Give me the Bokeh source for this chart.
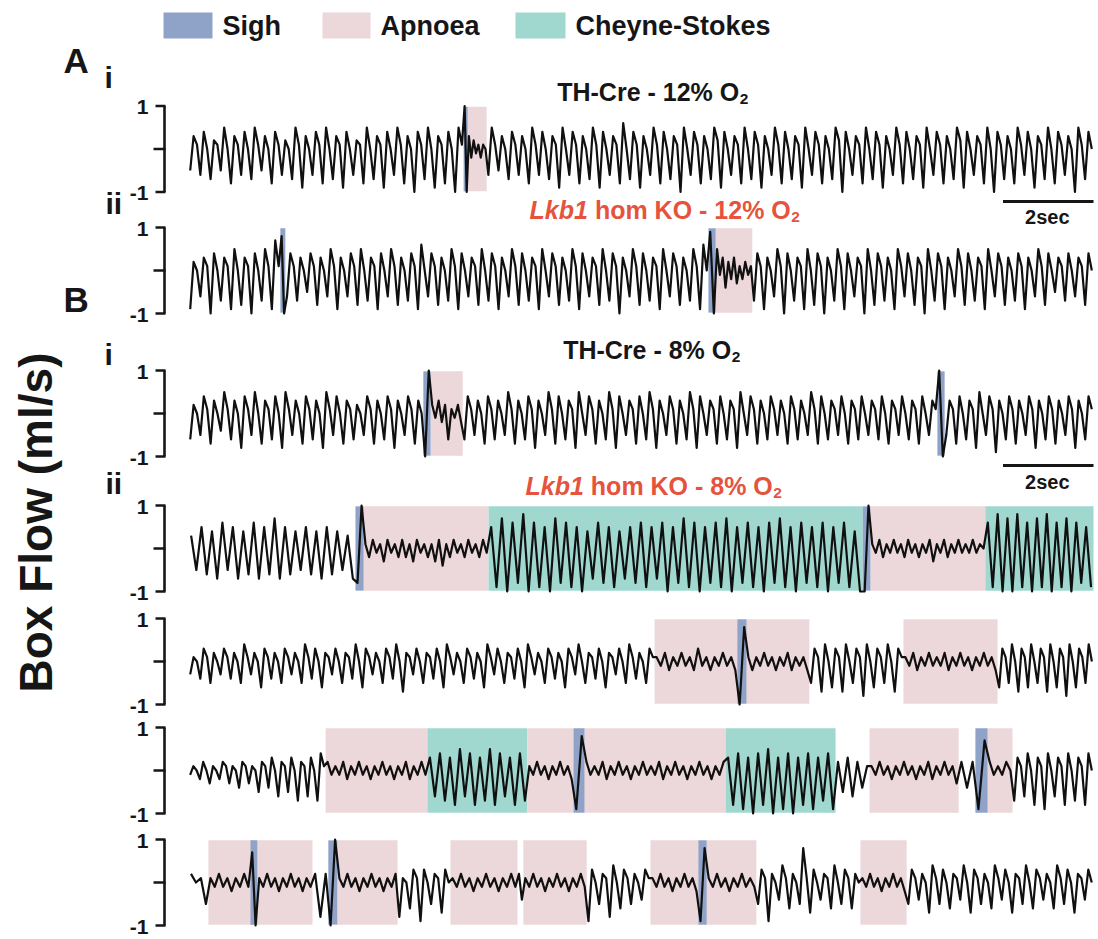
import numpy as np
from bokeh.plotting import figure
from bokeh.models import Range1d
from bokeh.core.properties import value
from bokeh.embed import file_html
from bokeh.resources import INLINE

# ---------------- data (flow values in tenths of ml/s, times in s) ----------------
# regular breathing segments are read breath by breath as (trough, peak, plateau)
legend_labels = ["Sigh", "Apnoea", "Cheyne-Stokes"]
tick_values = [1, -1]
tick_labels = ["1", "-1"]
scale_bar_sec = 2

ai_bounds = [0, 6.08, 6.17, 6.59, 20]
ai_vals = [
    [-5,3,1, -6,4,0, -7,2,1, -5,5,0, -8,3,1, -6,4,0, -7,5,1, -5,3,0, -8,4,1, -6,2,0, -7,5,1, -9,3,0, -6,4,1, -8,5,0,
     -7,3,1, -9,4,0, -6,2,1, -8,5,0, -7,3,1, -9,4,0, -6,5,1, -8,3,0, -10,4,1, -7,5,0, -9,3,1, -8,4,0, -10,5,1],
    [10,-10],
    [3,-2,2,-1,1,-2,1,0],
    [-6,5,1, -5,3,0, -7,4,1, -6,3,0, -8,5,1, -6,4,0, -7,3,1, -9,5,0, -6,4,1, -8,3,0,
     -7,5,1, -9,4,0, -6,3,1, -8,6,0, -7,4,1, -9,3,0, -6,5,1, -8,4,0, -7,3,1, -10,5,0,
     -6,4,1, -8,3,0, -7,5,2, -9,4,0, -6,3,1, -8,5,0, -7,4,1, -9,3,0, -6,5,1, -8,4,0,
     -7,3,1, -9,5,0, -6,4,1, -8,3,0, -7,5,2, -10,4,0, -6,3,1, -8,5,0, -7,4,1, -9,3,0,
     -6,5,1, -8,4,0, -7,3,1, -9,5,0, -6,4,1, -8,3,0, -7,5,2, -9,4,0, -6,3,1, -8,5,0,
     -10,4,1, -7,3,0, -8,5,1, -6,4,0, -9,3,1, -7,5,0, -8,4,1, -6,3,0, -10,5,1, -7,4,0],
]

aii_bounds = [0, 2.03, 2.14, 11.49, 11.65, 12.46, 20]
aii_vals = [
    [-9,2,0, -6,3,1, -10,4,0, -7,3,1, -9,5,0, -8,3,1, -10,4,0, -7,5,1, -9,7,1],
    [8,-10],
    [-6,4,1, -7,3,0, -5,4,1, -8,3,0, -6,5,1, -9,3,0, -6,4,1, -8,5,0, -7,3,1, -9,4,0,
     -6,5,1, -8,3,0, -7,4,1, -9,6,0, -6,4,1, -8,3,0, -7,5,1, -9,4,0, -6,3,1, -8,5,0,
     -7,4,1, -9,3,0, -6,5,1, -8,4,0, -7,3,1, -9,5,0, -6,4,1, -8,3,0, -7,5,1, -9,4,0,
     -6,3,1, -8,5,0, -7,4,1, -10,3,0, -6,5,1, -8,4,0, -7,3,1, -9,5,0, -6,4,1, -8,3,0,
     -7,5,1, -9,6,0],
    [9,-10],
    [5,-1,3,-4,2,-2,3,-3,1,-2,2,-1,1],
    [-7,4,1, -9,3,0, -6,5,1, -10,4,0, -7,3,1, -9,5,0, -8,4,1, -10,3,0, -7,5,1, -9,4,0,
     -6,3,1, -10,5,0, -8,4,1, -7,3,0, -9,5,1, -6,4,0, -8,3,1, -10,5,0, -7,4,1, -9,3,0,
     -6,5,1, -8,4,0, -7,3,1, -9,5,0, -6,4,1, -8,3,0, -7,4,1, -9,3,0, -6,5,1, -8,4,0,
     -5,3,1, -7,4,0, -6,3,1, -8,4,0],
]

bi_bounds = [0, 5.19, 5.35, 6.06, 16.55, 16.71, 20]
bi_vals = [
    [-6,2,0, -5,4,1, -7,3,0, -4,5,1, -6,3,0, -8,4,1, -5,5,0, -7,3,1, -6,4,0, -8,5,1,
     -5,3,0, -7,4,1, -6,3,0, -8,5,1, -5,4,0, -7,3,1, -6,2,0, -5,4,1, -7,3,0, -6,4,1,
     -8,3,0, -5,4,1, -7,3,0],
    [-10,10],
    [2,-1,3,-2,2,-6,1,-1,2,-2],
    [-6,4,1, -5,3,0, -7,4,1, -6,3,0, -5,5,1, -7,3,0, -6,4,1, -8,3,0, -5,5,1, -7,4,0,
     -6,3,1, -8,5,0, -5,4,1, -7,3,0, -6,5,1, -8,4,0, -5,3,1, -7,4,0, -6,5,1, -8,3,0,
     -5,4,1, -7,3,0, -6,5,1, -8,4,0, -5,3,1, -7,4,0, -6,3,1, -8,5,0, -5,4,1, -7,3,0,
     -6,4,1, -5,3,0, -7,4,1, -6,3,0, -5,5,1, -7,4,0, -6,3,1, -5,4,0, -7,3,1, -6,4,0,
     -5,3,1, -6,4,0, -7,3,1, -5,4,0, -6,3,1, -7,4,0, -5,3,1],
    [10,-10],
    [-5,3,1, -7,4,0, -6,3,1, -8,5,0, -5,4,1, -9,3,0, -6,4,1, -7,3,0, -5,4,1, -8,3,0,
     -6,4,1, -7,3,0, -5,4,1, -8,3,0, -6,4,1],
]

bii_bounds = [0, 3.69, 3.87, 6.63, 14.90, 15.07, 17.61, 20]
bii_vals = [
    [3,-5,5,-6,4,-7,6,-5,5,-7,4,-6,6,-7,5,-6,7,-7,5,-6,4,-5,5,-6,4,-7,5,-6,4,-5,3,-7],
    [-8,10],
    [1,-2,2,-1,1,-3,2,-1,1,-2,2,-2,1,-3,2,-1,1,-2,1,-3,2,-4,1,-2,2,-1,1,-2,2,-1,1,-2,2,-1],
    [5,-9,7,-10,6,-8,8,-10,6,-9,5,-10,7,-8,6,-9,5,-10,4,-7,6,-8,5,-9,4,-7,5,-8,6,-9,5,-7,6,-10,5,-8,7,-9,6,-10,5,-8,6,-9,7,-10,5,-8,6,-9,5,-10,6,-8,7,-9,5,-10,6,-8,5,-9,6,-10,5,-8,6,-9,4,-10],
    [-10,10],
    [1,-1,2,-2,1,-1,2,-1,1,-2,2,-1,1,-2,1,-1,2,-3,1,-1,2,-2,1,-1,2,-1,1,-1,2,-1,1,0],
    [6,-9,8,-10,7,-10,8,-9,6,-10,7,-9,8,-10,6,-9,7,-10,6,-8,5,-9],
]

b3_bounds = [0, 10.30, 12.13, 12.33, 13.72, 15.80, 17.88, 20]
b3_vals = [
    [-3,1,0, -4,3,1, -5,2,0, -3,3,1, -4,2,0, -5,4,1, -3,2,0, -6,3,1, -4,2,0, -5,3,1,
     -3,2,0, -5,4,1, -4,3,0, -6,2,1, -3,3,0, -5,2,1, -4,4,0, -6,3,1, -3,2,0, -5,3,1,
     -4,4,0, -7,2,1, -3,3,0, -5,2,1, -4,3,0, -6,4,1, -3,2,0, -5,3,1, -4,2,0, -6,4,1,
     -3,3,0, -5,2,1, -4,3,0, -6,4,1, -3,2,0, -5,3,1, -4,2,0, -6,3,1, -3,4,0, -5,2,1,
     -4,3,0, -6,2,1, -3,3,0, -5,4,1, -4,2,0, -5,3,1],
    [1,-1,2,-2,1,-1,2,-1,1,-2,3,-1,1,-2,1,-1,2,-1,1,-2],
    [-10,8],
    [1,-2,1,-1,2,-1,1,-2,1,-1,2,-2,1,-1,1,-2],
    [-5,3,1, -7,4,0, -6,3,1, -7,4,0, -5,3,1, -8,4,0, -6,3,1, -5,4,0, -7,3,1],
    [1,-1,2,-2,1,-1,2,-1,1,-1,2,-2,1,-1,2,-1,1,-2,1,-1,2,-1,1,-2],
    [-6,3,1, -5,4,0, -7,3,1, -6,4,0, -5,3,1, -7,4,0, -6,3,1, -8,4,0, -6,3,1, -5,4,0],
]

b4_bounds = [0, 3.03, 5.28, 7.49, 8.51, 8.75, 11.87, 14.30, 15.05, 17.02, 17.39, 17.66, 18.21, 20]
b4_vals = [
    [-1,1,0, -2,2,0, -3,1,0, -2,2,1, -3,1,0, -4,2,1, -3,1,0, -5,2,1, -4,3,0, -6,2,1, -5,3,0, -7,2,1, -6,3,0, -7,4,1],
    [2,-1,1,-1,2,-2,1,-1,2,-1,1,-2,1,-1,2,-1,1,-2,1,-1,2,-2,1,-1,2,-1],
    [3,-6,4,-7,3,-8,5,-6,4,-8,3,-7,5,-8,4,-6,3,-8,4,-7],
    [1,-1,2,-1,1,-2,1,-1,2,-1,1,-2],
    [-9,8],
    [2,-1,1,-1,2,-2,1,-1,2,-1,1,-2,1,-1,2,-1,1,-1,2,-2,1,-1,2,-1,1,-2,1,-1,2,-1,1,-2,1,-1,2],
    [3,-8,4,-9,3,-10,4,-8,5,-10,3,-9,4,-10,3,-8,4,-9,3,-7,4,-9],
    [2,-5,3,-6,2,-4,1],
    [1,-1,2,-1,1,-2,1,-1,2,-1,1,-2,1,-1,2,-2,1,-1,2,-1,1,-3],
    [2,-4,2],
    [-9,7],
    [2,-1,1,-1,2,0],
    [-7,3,1, -6,4,0, -8,3,1, -9,4,0, -6,3,1, -8,4,0, -7,3,1, -8,4,0],
]

b5_bounds = [0, 0.44, 1.37, 1.52, 2.74, 3.09, 3.29, 4.62, 5.79, 7.27, 7.40, 8.80, 10.21, 11.27, 11.45, 12.55, 14.85, 15.87, 20]
b5_vals = [
    [2,0,1,-5],
    [1,-1,2,-1,1,-2,1,-1,2,-1],
    [7,-10],
    [1,-1,2,-1,1,-2,1,-1,2,-1,1,-2,1,-1],
    [2,-8,2],
    [-10,10],
    [1,-1,2,-1,1,-2,1,-1,2,-1,1,-2,1,-1,2],
    [-8,1,0, -6,3,1, -9,3,0, -5,2,1, -7,3,0],
    [1,-1,2,-1,1,-2,1,-1,2,-1,1,-2,1,-1,2,-1],
    [2,-4],
    [1,-1,2,-1,1,-2,1,-1,2,-1,1,-2,1,-1,2,-1],
    [-9,3,0, -5,2,1, -8,4,0, -6,3,1, -5,2,0, -4,3,1],
    [1,-1,2,-1,1,-2,1,-1,2,-1,1,-2],
    [-9,8],
    [1,-1,2,-1,1,-2,1,-1,2,-1,1,-1],
    [-5,3,1, -9,2,0, -4,4,1, -6,2,0, -5,8,1, -7,3,0, -4,2,1, -6,4,0, -5,3,1, -6,2,0],
    [1,-1,2,-1,1,-2,1,-1,2,-1,1,-2],
    [-5,3,1, -4,2,0, -7,4,1, -5,3,0, -6,2,1, -4,4,0, -7,3,1, -5,2,0, -6,4,1, -4,3,0,
     -7,2,1, -5,4,0, -6,3,1, -4,2,0, -6,4,1, -5,3,0, -7,2,1, -4,3,0],
]

# shaded episodes: row index, kind (0 sigh, 1 apnoea, 2 Cheyne-Stokes), start, end (s)
shade_row  = [0, 0, 1, 1, 1, 2, 2, 2, 3, 3, 3, 3, 3, 3, 4, 4, 4, 5, 5, 5, 5, 5, 5, 5, 5, 6, 6, 6, 6, 6, 6, 6, 6, 6]
shade_kind = [0, 1, 0, 0, 1, 0, 1, 0, 0, 1, 2, 0, 1, 2, 1, 0, 1, 1, 2, 1, 0, 2, 1, 0, 1, 1, 0, 0, 1, 1, 1, 1, 0, 1]
shade_t0   = [6.08, 6.17, 2.03, 11.49, 11.65, 5.19, 5.35, 16.55, 3.69, 3.87, 6.63, 14.90, 15.07, 17.61,
              10.30, 12.13, 15.80, 3.03, 5.28, 7.49, 8.51, 11.87, 15.05, 17.39, 17.66,
              0.44, 1.37, 3.09, 3.29, 5.79, 7.40, 10.21, 11.27, 14.85]
shade_t1   = [6.17, 6.59, 2.14, 11.65, 12.46, 5.35, 6.06, 16.71, 3.87, 6.63, 14.90, 15.07, 17.61, 20.0,
              13.72, 12.33, 17.88, 5.28, 7.49, 11.87, 8.75, 14.30, 17.02, 17.66, 18.21,
              2.74, 1.52, 3.29, 4.62, 7.27, 8.80, 12.55, 11.45, 15.87]

# ---------------- layout (pixel placement of the panels) ----------------
W, H = 1098, 939
X0_PX, PX_PER_S, PX_PER_U = 188.0, 45.25, 43.0
def X(px):
    return (px - X0_PX) / PX_PER_S
def Y(py):
    return -py / PX_PER_U

row_center_px = [148.5, 270, 413, 548, 661, 770, 882]
row_bounds = [ai_bounds, aii_bounds, bi_bounds, bii_bounds, b3_bounds, b4_bounds, b5_bounds]
row_vals = [ai_vals, aii_vals, bi_vals, bii_vals, b3_vals, b4_vals, b5_vals]

shade_colors = ["#8fa3c8", "#ecd7da", "#a0d8d0"]
FONT = value("Liberation Sans")
INK = "#161616"
RED = "#e6533d"

p = figure(width=W, height=H, x_range=Range1d(X(0), X(W)), y_range=Range1d(Y(H), Y(0)),
           output_backend="svg", toolbar_location=None, min_border=0,
           x_axis_location=None, y_axis_location=None)
p.grid.visible = False
p.outline_line_color = None
p.background_fill_color = "white"
p.border_fill_color = "white"

def build(bounds, segs):
    xs, ys = [], []
    for k, vals in enumerate(segs):
        t0, t1 = bounds[k], bounds[k + 1]
        step = (t1 - t0) / len(vals)
        for j, v in enumerate(vals):
            xs.append(t0 + (j + 0.5) * step)
            ys.append(v / 10.0)
    return np.array(xs), np.array(ys)

offsets = [Y(c) for c in row_center_px]

def txt(px, py, s, size, style="bold", align="left", color=INK, angle=0.0):
    # py is the vertical centre of the capital letters, in page pixels
    p.text(x=[X(px)], y=[Y(py)], text=[s], angle=angle, text_font=FONT, text_font_style=style,
           text_font_size=f"{size}px", text_align=align, text_baseline="middle", text_color=color)

# shading: apnoea / CS first, sighs on top
order = sorted(range(len(shade_row)), key=lambda i: 0 if shade_kind[i] != 0 else 1)
for i in order:
    off = offsets[shade_row[i]]
    p.quad(left=[shade_t0[i]], right=[shade_t1[i]], bottom=[off - 0.98], top=[off + 0.98],
           fill_color=shade_colors[shade_kind[i]], line_color=None)

# traces
for r in range(7):
    xs, ys = build(row_bounds[r], row_vals[r])
    p.line(xs, ys + offsets[r], line_color="#101010", line_width=2.2, line_join="round")

# axis brackets + tick labels
for off in offsets:
    p.segment(x0=[X(164)], y0=[off - 1], x1=[X(164)], y1=[off + 1], line_color=INK, line_width=2.6)
    p.segment(x0=[X(155)] * 2 + [X(153)], y0=[off + 1, off - 1, off], x1=[X(165)] * 3, y1=[off + 1, off - 1, off],
              line_color=INK, line_width=2.6)
    for tv, tl in zip(tick_values, tick_labels):
        p.text(x=[X(148)], y=[off + tv - 1.0 / PX_PER_U], text=[tl], text_font=FONT, text_font_style="bold",
               text_font_size="21px", text_align="right", text_baseline="middle", text_color=INK)

# legend
leg_px = [(163, 212, 222), (322, 370, 380), (515, 565, 575)]
for (a, b, tx), lab, col in zip(leg_px, legend_labels, shade_colors):
    p.quad(left=[X(a)], right=[X(b)], bottom=[Y(38)], top=[Y(12)], fill_color=col, line_color=None)
    txt(tx, 25, lab, 27)

# panel letters
for s, px, py, sz in [("A", 63, 60, 35), ("i", 104, 77, 30), ("ii", 105, 203, 30),
                      ("B", 63, 299, 35), ("i", 104, 354, 30), ("ii", 105, 483, 30)]:
    txt(px, py, s, sz)

# titles (Helvetica/Arial bold advance widths)
ADV = {' ': 278, '-': 333, '%': 889, '1': 556, '2': 556, '8': 556, 'C': 722, 'H': 722, 'K': 722, 'L': 611,
       'O': 778, 'T': 611, 'b': 611, 'e': 556, 'h': 611, 'k': 556, 'm': 889, 'o': 611, 'r': 389}
def tw(s, size):
    return sum(ADV[c] for c in s) / 1000.0 * size

def title(cx, cy, italic, rest, color, size=25):
    sub = size * 0.62
    total = tw(italic, size) + tw(rest, size) + tw("2", sub)
    x = cx - total / 2
    if italic:
        txt(x, cy, italic, size, style="bold italic", color=color)
        x += tw(italic, size) + tw(" ", size)
    txt(x, cy, rest.strip(), size, color=color)
    x += tw(rest.strip(), size)
    txt(x + 0.5, cy + 7, "2", round(sub, 1), color=color)

title(652, 91, "", "TH-Cre - 12% O", INK)
title(664, 209, "Lkb1", " hom KO - 12% O", RED)
title(651, 349, "", "TH-Cre - 8% O", INK)
title(653, 485, "Lkb1", " hom KO - 8% O", RED)

# scale bars (2 s)
for bar_py, txt_py in [(201, 216), (465, 481)]:
    p.segment(x0=[20.0 - scale_bar_sec], y0=[Y(bar_py)], x1=[20.0], y1=[Y(bar_py)], line_color=INK, line_width=3)
    p.text(x=[20.0 - scale_bar_sec / 2 - 0.02], y=[Y(txt_py)], text=[f"{scale_bar_sec}sec"], text_font=FONT,
           text_font_style="bold", text_font_size="20px", text_align="center", text_baseline="middle",
           text_color=INK)

# y label
txt(35, 522, "Box Flow (ml/s)", 46, align="center", angle=np.pi / 2)

open("out.html", "w").write(file_html(p, INLINE))
